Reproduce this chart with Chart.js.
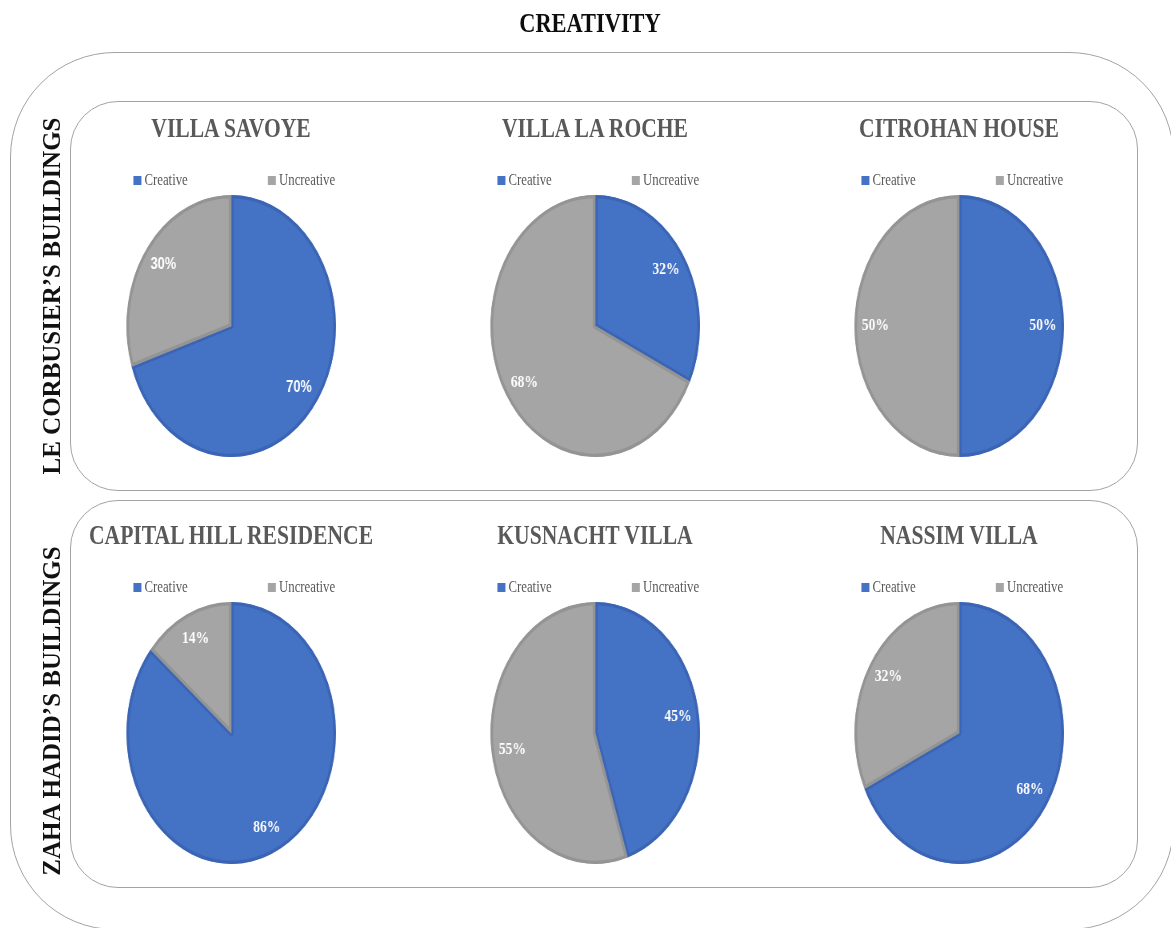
<!DOCTYPE html>
<html>
<head>
<meta charset="utf-8">
<title>Creativity</title>
<script src="https://cdn.jsdelivr.net/npm/chart.js@4.4.1/dist/chart.umd.min.js"></script>
<style>
  body {
    margin: 0;
    width: 1171px;
    height: 928px;
    overflow: hidden;
    position: relative;
    background: #fff;
    font-family: "Liberation Serif", "Times New Roman", serif;
  }
  .box {
    position: absolute;
    box-sizing: border-box;
    border: 1.5px solid #a3a3a3;
  }
  #outer { left: 10px; top: 52px; width: 1164px; height: 878px; border-radius: 105px; }
  .panel { left: 70px; width: 1068px; border-radius: 48px; }
  .side {
    position: absolute;
    font-weight: bold;
    font-size: 25px;
    color: #111;
    white-space: nowrap;
    transform: translate(-50%, -50%) rotate(-90deg);
  }
  /* everything in the stage is squeezed horizontally, so the pies come out as ellipses */
  #stage {
    position: absolute;
    left: 0; top: 0;
    width: 1464px; height: 928px;
    transform: scaleX(0.8);
    transform-origin: 0 0;
  }
  .title {
    position: absolute;
    transform: translate(-50%, -50%);
    font-weight: bold;
    white-space: nowrap;
  }
  .legend {
    position: absolute;
    transform: translate(-50%, -50%);
    display: flex;
    gap: 100px;
    font-size: 16px;
    color: #595959;
    white-space: nowrap;
  }
  .legend span { display: flex; align-items: center; }
  .legend i { display: inline-block; width: 10px; height: 9px; margin-right: 4px; }
  canvas { position: absolute; }
</style>
</head>
<body>
<div id="outer" class="box"></div>
<div class="box panel" style="top:101px;height:390px"></div>
<div class="box panel" style="top:500px;height:388px"></div>
<div id="stage"></div>

<script>
const buildings = ['VILLA SAVOYE', 'VILLA LA ROCHE', 'CITROHAN HOUSE',
                   'CAPITAL HILL RESIDENCE', 'KUSNACHT VILLA', 'NASSIM VILLA'];
const categories = ['Creative', 'Uncreative'];
const creative   = [70, 32, 50, 86, 45, 68];
const uncreative = [30, 68, 50, 14, 55, 32];
const groups = ['LE CORBUSIER’S BUILDINGS', 'ZAHA HADID’S BUILDINGS'];

const fills   = ['#4472C4', '#A5A5A5'];
const borders = ['#3b65b4', '#949494'];

// layout in stage units (stage is scaled by 0.8 in x)
const SX = 0.8;
const colX = [231, 595, 959].map(x => x / SX);
const rowY = [326, 733];
const R = 131;

const stage = document.getElementById('stage');

function addText(cls, text, x, y, css) {
  const d = document.createElement('div');
  d.className = cls;
  d.textContent = text;
  d.style.left = x + 'px';
  d.style.top = y + 'px';
  Object.assign(d.style, css || {});
  stage.appendChild(d);
  return d;
}

addText('title', 'CREATIVITY', 590 / SX, 23, { fontSize: '28px', color: '#0d0d0d' });

// vertical group labels sit outside the stage so they are not squeezed
groups.forEach((g, i) => {
  const d = document.createElement('div');
  d.className = 'side';
  d.textContent = g;
  d.style.left = '52px';
  d.style.top = [296, 711][i] + 'px';
  document.body.appendChild(d);
});

const pctLabels = {
  id: 'pctLabels',
  afterDatasetsDraw(chart, args, opts) {
    const ctx = chart.ctx;
    const values = chart.data.datasets[0].data;
    ctx.save();
    ctx.font = opts.font;
    ctx.fillStyle = '#fff';
    ctx.textAlign = 'center';
    ctx.textBaseline = 'middle';
    chart.getDatasetMeta(0).data.forEach((arc, i) => {
      const p = arc.getProps(['x', 'y', 'startAngle', 'endAngle', 'outerRadius'], true);
      const mid = (p.startAngle + p.endAngle) / 2;
      const r = p.outerRadius * 0.8;
      ctx.fillText(values[i] + '%', p.x + Math.cos(mid) * r, p.y + Math.sin(mid) * r);
    });
    ctx.restore();
  }
};

buildings.forEach((name, i) => {
  const cx = colX[i % 3];
  const cy = rowY[Math.floor(i / 3)];

  addText('title', name, cx, cy - 198, { fontSize: '27px', color: '#595959' });

  const lg = document.createElement('div');
  lg.className = 'legend';
  lg.style.left = (cx + 4) + 'px';
  lg.style.top = (cy - 146) + 'px';
  categories.forEach((c, k) => {
    const s = document.createElement('span');
    s.innerHTML = '<i style="background:' + fills[k] + '"></i>' + c;
    lg.appendChild(s);
  });
  stage.appendChild(lg);

  const size = 2 * R + 10;
  const cv = document.createElement('canvas');
  cv.width = size;
  cv.height = size;
  cv.style.left = (cx - size / 2) + 'px';
  cv.style.top = (cy - size / 2) + 'px';
  stage.appendChild(cv);

  // the first chart carries a sans-serif label style, the rest serif
  const labelFont = i === 0 ? 'bold 16px "Liberation Sans", Arial, sans-serif'
                            : 'bold 17px "Liberation Serif", "Times New Roman", serif';

  new Chart(cv, {
    type: 'pie',
    data: {
      labels: categories,
      datasets: [{
        data: [creative[i], uncreative[i]],
        backgroundColor: fills,
        borderColor: borders,
        borderWidth: 3,
        borderAlign: 'inner'
      }]
    },
    options: {
      responsive: false,
      animation: false,
      radius: R,
      layout: { padding: 0 },
      plugins: {
        legend: { display: false },
        tooltip: { enabled: false },
        pctLabels: { font: labelFont }
      }
    },
    plugins: [pctLabels]
  });
});
</script>
</body>
</html>
